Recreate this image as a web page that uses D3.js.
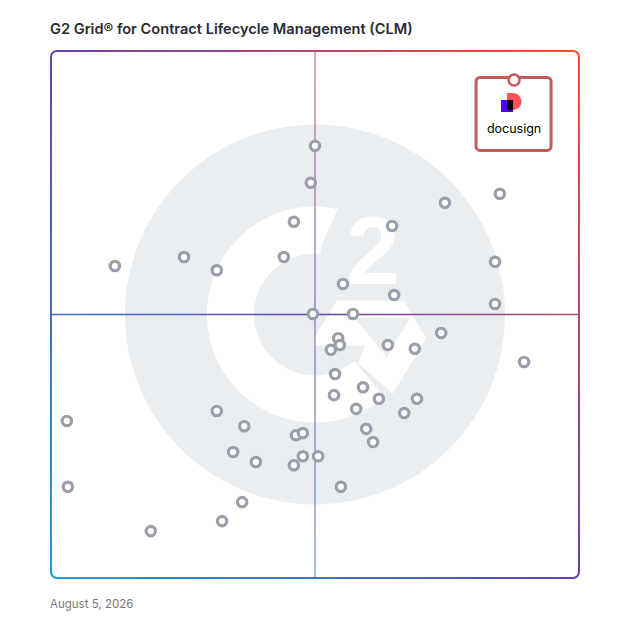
<!DOCTYPE html>
<html>
<head>
<meta charset="utf-8">
<script src="https://cdn.jsdelivr.net/npm/d3@7"></script>
<style>
  html, body { margin: 0; padding: 0; background: #fff; }
  svg { display: block; }
</style>
</head>
<body>
<div id="chart"></div>
<script>
// vendors: satisfaction (x) and market presence (y), 0-100
const vendors = [
  "A1", "A2", "A3", "A4", "A5", "A6", "A7", "A8", "A9", "A10",
  "A11", "A12", "A13", "A14", "A15", "A16", "A17", "A18", "A19", "A20",
  "A21", "A22", "A23", "A24", "A25", "A26", "A27", "A28", "A29", "A30",
  "A31", "A32", "A33", "A34", "A35", "A36", "A37", "A38", "A39", "A40",
  "A41", "A42", "A43", "A44", "A45", "A46", "A47"
];
const satisfaction = [
  50.0, 49.2, 46.0, 25.2, 12.1, 31.4, 44.1, 49.6, 74.6, 85.0,
  64.6, 84.1, 55.3, 65.0, 84.1, 57.2, 54.4, 54.7, 53.0, 63.8,
  68.9, 73.9, 89.6, 53.8, 53.6, 59.1, 62.1, 57.8, 69.3, 66.9,
  59.7, 61.0, 50.6, 54.9, 3.0, 3.2, 31.4, 36.6, 34.5, 38.8,
  46.4, 47.7, 47.7, 46.0, 36.2, 32.4, 18.9
];
const marketPresence = [
  82.0, 75.0, 67.6, 60.9, 59.2, 58.4, 60.9, 50.1, 71.2, 72.9,
  66.8, 60.0, 55.8, 53.7, 52.0, 50.1, 45.5, 44.2, 43.3, 44.2,
  43.5, 46.5, 41.0, 38.7, 34.7, 36.2, 34.0, 32.1, 34.0, 31.3,
  28.3, 25.8, 23.1, 17.3, 29.8, 17.3, 31.7, 28.8, 23.9, 22.0,
  27.1, 27.5, 23.1, 21.4, 14.4, 10.8, 8.9
];
const highlight = { name: "docusign", satisfaction: 87.7, marketPresence: 94.5 };

const title = "G2 Grid® for Contract Lifecycle Management (CLM)";
const dateLabel = "August 5, 2026";

const width = 628;
const height = 628;

const x = d3.scaleLinear().domain([0, 100]).range([51, 579]);
const y = d3.scaleLinear().domain([0, 100]).range([578, 51]);

const svg = d3.select("#chart").append("svg")
  .attr("width", width)
  .attr("height", height);

const defs = svg.append("defs");
const grad = defs.append("linearGradient")
  .attr("id", "frame")
  .attr("gradientUnits", "userSpaceOnUse")
  .attr("x1", x(0)).attr("y1", y(0))
  .attr("x2", x(100)).attr("y2", y(100));
grad.append("stop").attr("offset", "0%").attr("stop-color", "#1a9fdc");
grad.append("stop").attr("offset", "50%").attr("stop-color", "#6443ac");
grad.append("stop").attr("offset", "100%").attr("stop-color", "#ff4b2b");

// title
svg.append("text")
  .attr("x", 50).attr("y", 34)
  .attr("font-family", "Inter, 'Noto Sans', sans-serif")
  .attr("font-weight", 600)
  .attr("font-size", 14.6)
  .attr("fill", "#2b2a35")
  .text(title);

// G2 watermark
const cx = x(50), cy = y(50);
const logo = svg.append("g").attr("class", "watermark");
logo.append("circle")
  .attr("cx", cx).attr("cy", cy).attr("r", 190)
  .attr("fill", "#ebeef1");

const deg = Math.PI / 180;
logo.append("path")
  .attr("transform", `translate(${cx},${cy})`)
  .attr("d", d3.arc()
    .innerRadius(61)
    .outerRadius(108)
    .startAngle(140 * deg)
    .endAngle(365 * deg)())
  .attr("fill", "#fff");
// slanted top cut of the G
logo.append("path")
  .attr("d", `M${cx},${cy - 108} L${cx + 23},${cy - 106} L${cx + 3},${cy - 61} L${cx},${cy - 61} Z`)
  .attr("fill", "#fff");
// bar and chevron of the G
logo.append("path")
  .attr("fill-rule", "evenodd")
  .attr("d", `M${cx + 22},${cy - 14} L${cx + 89},${cy - 14} L${cx + 111},${cy + 24} L${cx + 78},${cy + 79} L${cx + 43},${cy + 49} L${cx + 50},${cy + 31} L${cx - 1},${cy + 31} L${cx - 1},${cy + 24} Z ` +
    `M${cx + 39},${cy + 3} L${cx + 95},${cy + 3} L${cx + 72},${cy + 43} Z`)
  .attr("fill", "#fff");
logo.append("text")
  .attr("x", cx + 58).attr("y", cy - 31)
  .attr("text-anchor", "middle")
  .attr("font-family", "'Liberation Sans', Arial, sans-serif")
  .attr("font-weight", 700)
  .attr("font-size", 96)
  .attr("fill", "#fff")
  .text("2");

// quadrant lines
svg.append("line")
  .attr("x1", x(0)).attr("x2", x(100))
  .attr("y1", y(50)).attr("y2", y(50))
  .attr("stroke", "url(#frame)")
  .attr("stroke-width", 1.6);
svg.append("line")
  .attr("x1", x(50)).attr("x2", x(50))
  .attr("y1", y(100)).attr("y2", y(0))
  .attr("stroke", "url(#frame)")
  .attr("stroke-opacity", 0.6)
  .attr("stroke-width", 1.6);

// frame
svg.append("rect")
  .attr("x", x(0)).attr("y", y(100))
  .attr("width", x(100) - x(0))
  .attr("height", y(0) - y(100))
  .attr("rx", 6)
  .attr("fill", "none")
  .attr("stroke", "url(#frame)")
  .attr("stroke-width", 2);

// vendor points
svg.append("g")
  .selectAll("circle")
  .data(d3.range(satisfaction.length))
  .join("circle")
  .attr("cx", (i) => x(satisfaction[i]))
  .attr("cy", (i) => y(marketPresence[i]))
  .attr("r", 4.7)
  .attr("fill", "#fff")
  .attr("stroke", "#9b9eab")
  .attr("stroke-width", 3.2);

// highlighted vendor card
const hx = x(highlight.satisfaction), hy = y(highlight.marketPresence);
const card = svg.append("g");
card.append("rect")
  .attr("x", hx - 38).attr("y", hy - 2.5)
  .attr("width", 75).attr("height", 73)
  .attr("rx", 4)
  .attr("fill", "#fff")
  .attr("stroke", "#c45a5c")
  .attr("stroke-width", 3);
card.append("circle")
  .attr("cx", hx).attr("cy", hy).attr("r", 5.5)
  .attr("fill", "#fff")
  .attr("stroke", "#c45a5c")
  .attr("stroke-width", 2.5);

// docusign mark
const mx = hx - 13, my = hy + 13;
card.append("path")
  .attr("d", `M${mx + 6},${my} h6 a8.5,8.5 0 0 1 8.5,8.5 a8.5,8.5 0 0 1 -8.5,8.5 h-6 Z`)
  .attr("fill", "#ff5252");
card.append("rect")
  .attr("x", mx).attr("y", my + 7)
  .attr("width", 12).attr("height", 12)
  .attr("fill", "#4c00ff");
card.append("rect")
  .attr("x", mx + 6).attr("y", my + 7)
  .attr("width", 6).attr("height", 10)
  .attr("fill", "#000");
card.append("text")
  .attr("x", hx).attr("y", hy + 53)
  .attr("text-anchor", "middle")
  .attr("font-family", "Inter, 'Noto Sans', sans-serif")
  .attr("font-size", 12.5)
  .attr("fill", "#000")
  .text(highlight.name);

// date
svg.append("text")
  .attr("x", 50).attr("y", 608)
  .attr("font-family", "Inter, 'Noto Sans', sans-serif")
  .attr("font-size", 11.5)
  .attr("fill", "#77767f")
  .text(dateLabel);
</script>
</body>
</html>
